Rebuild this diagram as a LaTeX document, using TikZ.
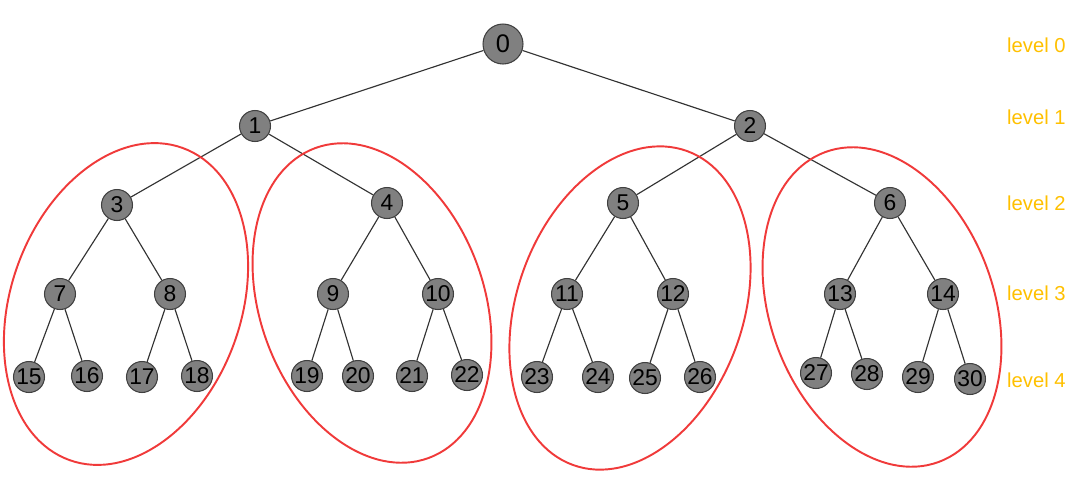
\documentclass[tikz,border=0pt]{standalone}
\usepackage{fontspec}
\setmainfont{Liberation Sans}
\usetikzlibrary{positioning}
\definecolor{nodegray}{RGB}{128,128,128}
\definecolor{levelgold}{RGB}{255,192,0}
\definecolor{ringred}{RGB}{240,58,58}

\begin{document}
\begin{tikzpicture}[x=0.02cm, y=-0.02cm,
  vtx/.style={circle, draw=black!75, fill=nodegray, line width=0.6pt,
    minimum size=0.62cm, inner sep=0pt, font=\fontsize{13}{14}\selectfont},
  edge/.style={draw=black!80, line width=0.65pt},
  ring/.style={draw=ringred, line width=1.1pt},
  lvl/.style={text=levelgold, anchor=west, font=\fontsize{11.5}{12}\selectfont}]
  \useasboundingbox (0,0) rectangle (1080,491);

  % root
  \node[vtx, minimum size=0.8cm, font=\fontsize{14.5}{15}\selectfont] (n0) at (503,44) {0};

  % levels 1 to 4
  \foreach \i/\x/\y in {1/255/126, 2/750/126,
      3/117/205, 4/387/203, 5/623/203, 6/890/203,
      7/60/294, 8/170/294, 9/333/294, 10/438/294,
      11/567/294, 12/673/294, 13/840/294, 14/943/294,
      15/29/377, 16/87/376, 17/142/377, 18/197/376,
      19/307/376, 20/358/376, 21/412/376, 22/467/375,
      23/537/377, 24/598/377, 25/645/378, 26/700/377,
      27/816/373, 28/867/374, 29/918/377, 30/970/379}
    \node[vtx] (n\i) at (\x,\y) {\i};

  % edges: parent of i is (i-1)/2
  \foreach \i in {1,...,30}{
    \pgfmathtruncatemacro{\p}{(\i-1)/2}
    \draw[edge] (n\p) -- (n\i);
  }

  % subtrees
  \draw[ring, rotate around={-20:(126,304)}] (126,304) ellipse (115 and 166);
  \draw[ring, rotate around={20:(372,303)}] (372,303) ellipse (112 and 165);
  \draw[ring, rotate around={-20:(630,308)}] (630,308) ellipse (113 and 167);
  \draw[ring, rotate around={20:(882,307)}] (882,307) ellipse (112 and 165);

  % level labels
  \node[lvl] (l0) at (1001,45) {level 0};
  \node[lvl] (l1) at (1001,117) {level 1};
  \node[lvl] (l2) at (1001,203) {level 2};
  \node[lvl] (l3) at (1001,293) {level 3};
  \node[lvl] (l4) at (1001,380) {level 4};
\end{tikzpicture}
\end{document}
